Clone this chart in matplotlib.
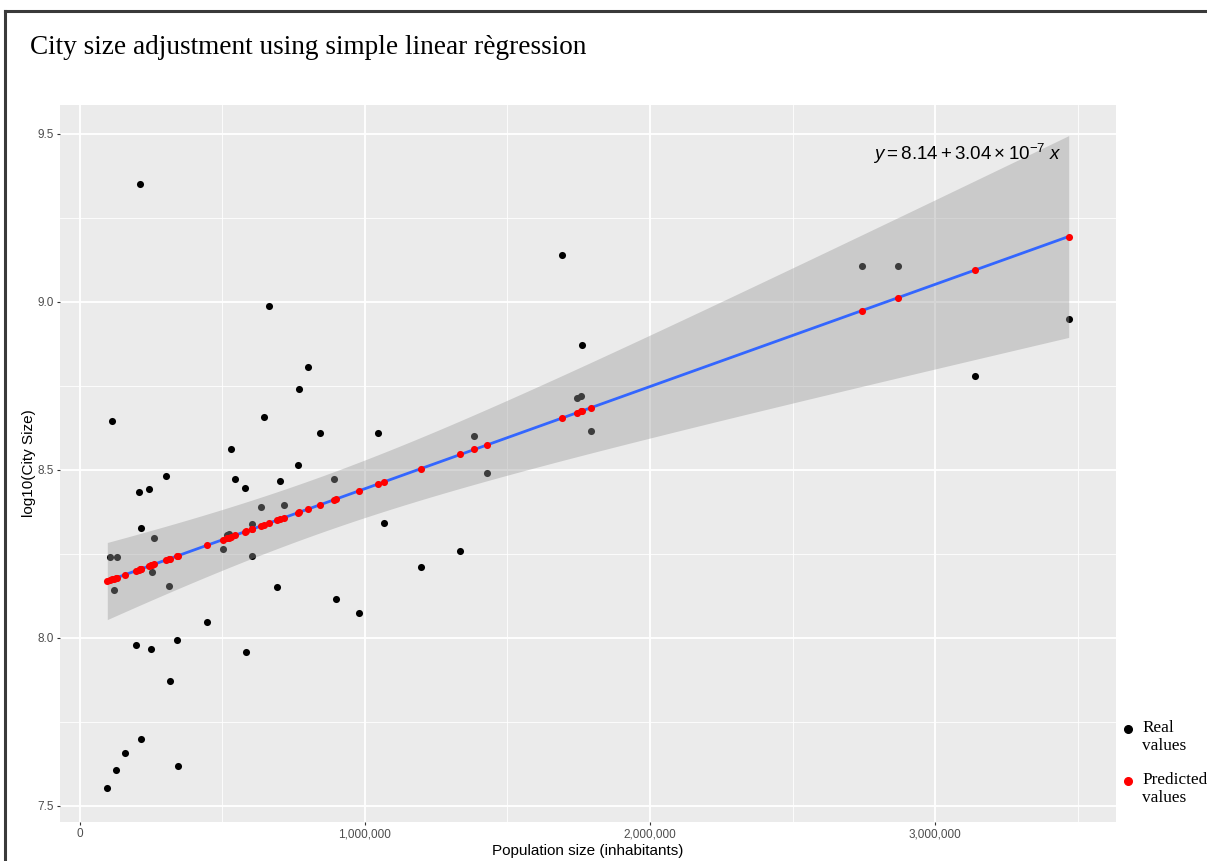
import numpy as np
import matplotlib
matplotlib.use("Agg")
import matplotlib.pyplot as plt
from matplotlib.lines import Line2D
from matplotlib.ticker import FuncFormatter, MultipleLocator

# poblacion (habitantes) y log10 del tamano de ciudad
poblacion = [96e3, 105e3, 113e3, 118e3, 127e3, 129e3, 158e3, 195e3, 206e3, 210e3,
             214e3, 214e3, 243e3, 250e3, 254e3, 260e3, 302e3, 313e3, 315e3, 340e3,
             345e3, 446e3, 501e3, 515e3, 522e3, 529e3, 544e3, 580e3, 582e3, 602e3,
             605e3, 635e3, 647e3, 664e3, 692e3, 701e3, 716e3, 764e3, 770e3, 800e3,
             843e3, 892e3, 897e3, 978e3, 1046e3, 1067e3, 1195e3, 1335e3, 1384e3, 1429e3,
             1690e3, 1743e3, 1758e3, 1761e3, 1792e3, 2744e3, 2871e3, 3140e3, 3469e3]
log_tamano = [7.552, 8.242, 8.646, 8.143, 7.606, 8.242, 7.657, 7.978, 8.434, 9.351,
              8.328, 7.700, 8.443, 7.966, 8.196, 8.298, 8.482, 8.153, 7.873, 7.994,
              7.619, 8.047, 8.265, 8.307, 8.310, 8.563, 8.474, 8.446, 7.959, 8.244,
              8.338, 8.391, 8.656, 8.987, 8.151, 8.467, 8.396, 8.514, 8.741, 8.806,
              8.609, 8.472, 8.116, 8.074, 8.610, 8.341, 8.210, 8.260, 8.602, 8.492,
              9.139, 8.713, 8.720, 8.872, 8.616, 9.106, 9.107, 8.780, 8.949]

# coeficientes mostrados en la ecuacion
intercepto = 8.14
pendiente = 3.04e-7

x = np.array(poblacion)
y = np.array(log_tamano)
y_pred = intercepto + pendiente * x

# banda de confianza del ajuste (como geom_smooth)
n = len(x)
residuos = y - y_pred
s = np.sqrt(np.sum(residuos**2) / (n - 2))
sxx = np.sum((x - x.mean())**2)
xs = np.linspace(x.min(), x.max(), 200)
ys = intercepto + pendiente * xs
hw = 2.0 * s * np.sqrt(1/n + (xs - x.mean())**2 / sxx)

plt.rcParams['font.family'] = ['Liberation Sans', 'DejaVu Sans']
plt.rcParams['mathtext.fontset'] = 'custom'
plt.rcParams['mathtext.rm'] = 'Liberation Sans'
plt.rcParams['mathtext.it'] = 'Liberation Sans:italic'

fig = plt.figure(figsize=(12.07, 8.61), dpi=100)
ax = fig.add_axes([60/1207, 39/861, 1056/1207, 717/861])
ax.set_facecolor('#EBEBEB')

ax.scatter(x, y, s=26, color='black', zorder=2, linewidths=0)
ax.fill_between(xs, ys - hw, ys + hw, color='#999999', alpha=0.4, linewidth=0, zorder=3)
ax.plot(xs, ys, color='#3366FF', lw=2, zorder=4)
ax.scatter(x, y_pred, s=26, color='red', zorder=5, linewidths=0)

ax.set_xlim(-70000, 3635000)
ax.set_ylim(7.452, 9.586)

ax.xaxis.set_major_locator(MultipleLocator(1e6))
ax.xaxis.set_minor_locator(MultipleLocator(5e5))
ax.yaxis.set_major_locator(MultipleLocator(0.5))
ax.yaxis.set_minor_locator(MultipleLocator(0.25))
ax.xaxis.set_major_formatter(FuncFormatter(lambda v, p: f"{int(v):,}"))
ax.yaxis.set_major_formatter(FuncFormatter(lambda v, p: f"{v:.1f}"))

ax.grid(which='major', color='white', lw=1.3, zorder=0)
ax.grid(which='minor', color='white', lw=0.6, zorder=0)
ax.set_axisbelow(True)
for sp in ax.spines.values():
    sp.set_visible(False)
ax.tick_params(which='major', length=2.5, width=0.8, color='#333333',
               labelcolor='#4D4D4D', labelsize=8.5, pad=2)
ax.tick_params(which='minor', length=0)

ax.set_xlabel("Population size (inhabitants)", fontsize=11, labelpad=3)
ax.set_ylabel("log10(City Size)", fontsize=11, labelpad=1)

ax.text(3445000, 9.44, r"$y = 8.14 + 3.04 \times 10^{-7}\ x$", ha='right', va='center',
        fontsize=13.5, zorder=6)

fig.text(30/1207, 1 - 47/861, "City size adjustment using simple linear règression",
         fontsize=19.6, family='Liberation Serif', va='center', ha='left')

# leyenda a mano (el punto va alineado con la primera linea)
etiquetas = ["Real\nvalues", "Predicted\nvalues"]
colores = ['black', 'red']
for i, (et, col) in enumerate(zip(etiquetas, colores)):
    yy = 1 - (729 + 52*i)/861
    fig.add_artist(Line2D([1128/1207], [yy], marker='o', ls='', color=col, markersize=5.5))
    fig.text(1142/1207, yy + 9/861, et, family='Liberation Serif', fontsize=12.4,
             va='top', ha='left', linespacing=1.15)

# marco exterior
fig.add_artist(Line2D([5/1207, 5/1207], [0, 1 - 11/861], color='#3a3a3a', lw=2.2))
fig.add_artist(Line2D([5/1207, 1], [1 - 11/861, 1 - 11/861], color='#3a3a3a', lw=2.2))

fig.savefig("out.png", dpi=100)
